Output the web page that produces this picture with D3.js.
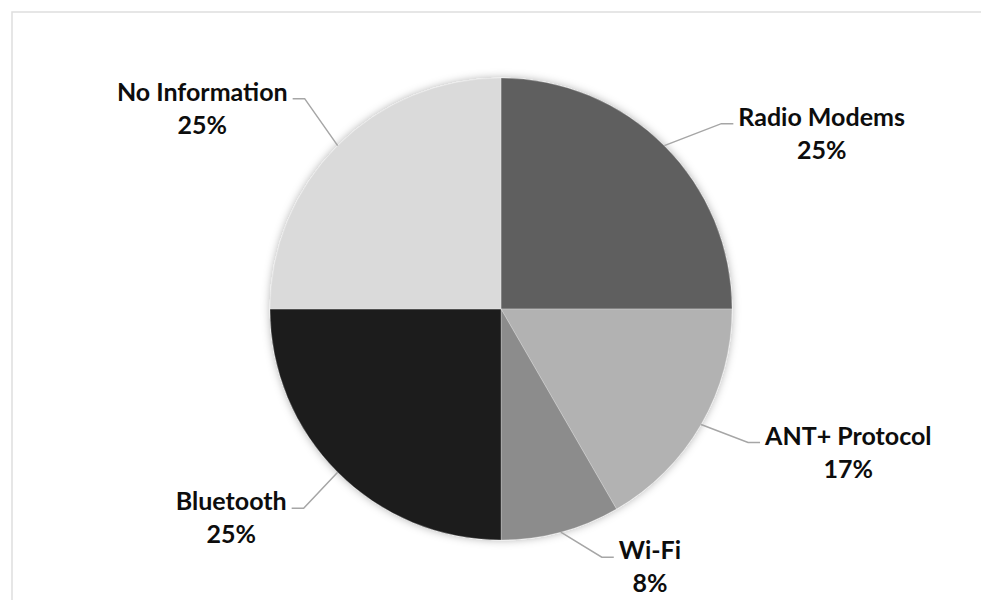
<!DOCTYPE html>
<html>
<head>
<meta charset="utf-8">
<script src="https://cdn.jsdelivr.net/npm/d3@7"></script>
<style>
  body { margin: 0; background: #fff; }
  svg text { font-family: Lato, "Open Sans", sans-serif; font-weight: 700; fill: #0d0d0d; }
</style>
</head>
<body>
<svg id="chart" width="981" height="600"></svg>
<script>
// data
const categories = ["Radio Modems", "ANT+ Protocol", "Wi-Fi", "Bluetooth", "No Information"];
const counts = [3, 2, 1, 3, 3];
const pctLabels = ["25%", "17%", "8%", "25%", "25%"];
const sliceColors = ["#5f5f5f", "#b2b2b2", "#8c8c8c", "#1c1c1c", "#dadada"];

// where each leader bends, relative to the slice edge point (layout only)
const elbowShift = [[57, -22], [47, 18], [41, 25], [-34, 36], [-33, -47]];

const svg = d3.select("#chart"),
      cx = 501, cy = 309, r = 231,
      legLen = 12, gap = 5, lineGap = 33;

// outer frame
svg.append("rect")
  .attr("x", 12).attr("y", 12)
  .attr("width", 1000).attr("height", 620)
  .attr("fill", "none")
  .attr("stroke", "#dedede")
  .attr("stroke-width", 1.5);

const defs = svg.append("defs");
defs.append("filter").attr("id", "shadow")
  .attr("x", "-20%").attr("y", "-20%").attr("width", "140%").attr("height", "140%")
  .append("feDropShadow")
  .attr("dx", 0).attr("dy", 0)
  .attr("stdDeviation", 4)
  .attr("flood-color", "#000")
  .attr("flood-opacity", 0.3);

const pie = d3.pie().sort(null).value(d => d)(counts);
const arc = d3.arc().innerRadius(0).outerRadius(r);

const g = svg.append("g").attr("transform", `translate(${cx},${cy})`);

g.append("g").attr("filter", "url(#shadow)")
  .selectAll("path")
  .data(pie)
  .join("path")
  .attr("d", arc)
  .attr("fill", (d, i) => sliceColors[i])
  .attr("stroke", "#fff")
  .attr("stroke-opacity", 0.25)
  .attr("stroke-width", 1);

// leader lines + labels
pie.forEach((d, i) => {
  const mid = (d.startAngle + d.endAngle) / 2;
  const ex = r * Math.sin(mid), ey = -r * Math.cos(mid);
  const bx = ex + elbowShift[i][0], by = ey + elbowShift[i][1];
  const right = Math.sin(mid) > 0;
  const tx = right ? bx + legLen : bx - legLen;

  g.append("polyline")
    .attr("points", [[ex, ey], [bx, by], [tx, by]].map(p => p.join(",")).join(" "))
    .attr("fill", "none")
    .attr("stroke", "#a6a6a6")
    .attr("stroke-width", 1.5);

  const lab = g.append("text").attr("text-anchor", "middle").attr("font-size", 25);
  const t1 = lab.append("tspan").attr("y", by + 2).text(categories[i]);
  const t2 = lab.append("tspan").attr("y", by + 2 + lineGap).text(pctLabels[i]);
  const w = Math.max(t1.node().getComputedTextLength(), t2.node().getComputedTextLength());
  const mx = right ? tx + gap + w / 2 : tx - gap - w / 2;
  t1.attr("x", mx);
  t2.attr("x", mx);
});
</script>
</body>
</html>
